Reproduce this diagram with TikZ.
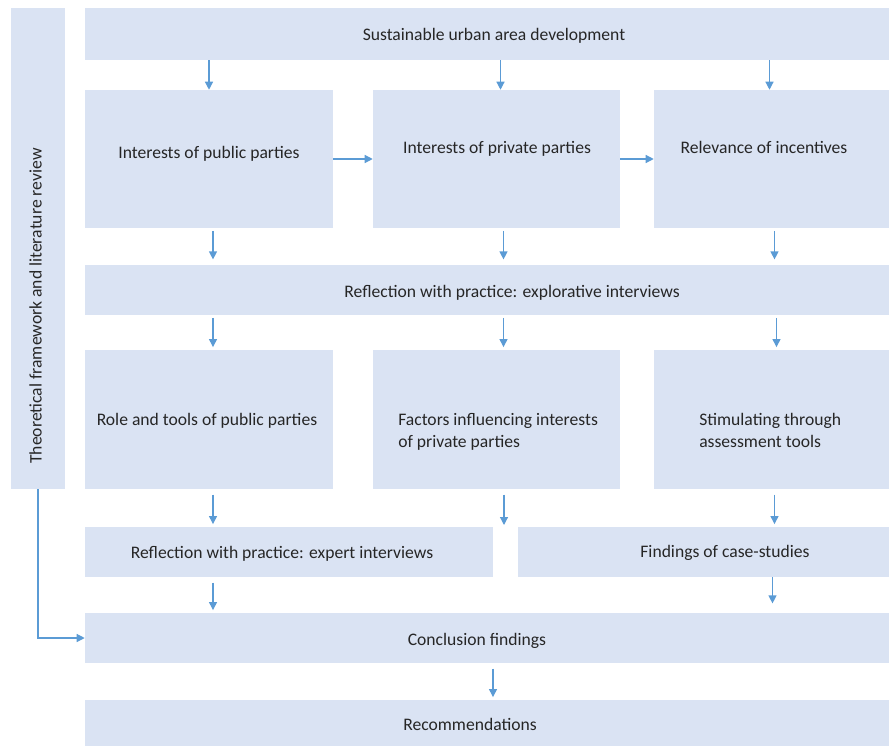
\documentclass[tikz,border=0pt]{standalone}
\usepackage{fontspec}
\setmainfont{Carlito}
\usetikzlibrary{arrows.meta, calc, fit}
\definecolor{panel}{HTML}{DAE3F3}
\definecolor{flowline}{HTML}{5B9BD5}
\definecolor{ink}{HTML}{262626}

\begin{document}
\begin{tikzpicture}[x={(0.75pt,0)}, y={(0,-0.75pt)},
	box/.style={fill=panel, inner sep=0pt},
	txt/.style={text=ink, inner sep=0pt, text height=0.9em, text depth=0.06em, font=\fontsize{13.2}{16.5}\selectfont},
	twoline/.style={text=ink, inner sep=0pt, anchor=west, align=left, font=\fontsize{13.2}{16.5}\selectfont},
	flow/.style={draw=flowline, line width=0.9pt, -{Triangle[length=6pt, width=6pt]}}]

	\useasboundingbox (0,0) rectangle (889,746);

	% left bar
	\node[box, fit={(11,8) (65,489)}] (bar) {};
	\node[txt, rotate=90] (bartxt) at (36,306) {Theoretical framework and literature review};

	% top
	\node[box, fit={(85,8) (889,60)}] (top) {};
	\node[txt] (toptxt) at (494,35) {Sustainable urban area development};

	% first row
	\node[box, fit={(85,90) (333,228)}] (pub) {};
	\node[box, fit={(373,90) (620,228)}] (priv) {};
	\node[box, fit={(654,90) (889,228)}] (rel) {};
	\node[txt] (pubtxt) at (209,153) {Interests of public parties};
	\node[txt] (privtxt) at (497,148) {Interests of private parties};
	\node[txt] (reltxt) at (764,148) {Relevance of incentives};

	\node[box, fit={(85,265) (889,315)}] (refl) {};
	\node[txt] (refltxt) at (512,292) {Reflection with practice: explorative interviews};

	% second row
	\node[box, fit={(85,350) (333,489)}] (role) {};
	\node[box, fit={(373,350) (620,489)}] (fac) {};
	\node[box, fit={(654,350) (889,489)}] (stim) {};
	\node[txt] (roletxt) at (207,420) {Role and tools of public parties};
	\node[twoline] (factxt) at (398,432) {Factors influencing interests\\of private parties};
	\node[twoline] (stimtxt) at (699,430) {Stimulating through\\assessment tools};

	\node[box, fit={(85,527) (493,577)}] (expert) {};
	\node[box, fit={(518,527) (889,577)}] (case) {};
	\node[txt] (experttxt) at (282,553) {Reflection with practice: expert interviews};
	\node[txt] (casetxt) at (725,552) {Findings of case-studies};

	\node[box, fit={(85,613) (889,663)}] (concl) {};
	\node[box, fit={(85,700) (889,746)}] (rec) {};
	\node[txt] (concltxt) at (477,640) {Conclusion findings};
	\node[txt] (rectxt) at (470,725) {Recommendations};

	\coordinate (gap) at (504,525);

	% arrows
	\draw[flow] (top.south -| pub.north) -- (pub.north);
	\draw[flow] ($(top.south -| priv.north)+(4,0)$) -- ($(priv.north)+(4,0)$);
	\draw[flow] ($(top.south -| rel.north)+(-2,0)$) -- ($(rel.north)+(-2,0)$);

	\draw[flow] (pub.east) -- (priv.west);
	\draw[flow] (priv.east) -- (rel.west);

	\draw[flow, shorten <=2pt, shorten >=4pt] ($(pub.south)+(4,0)$) -- ($(refl.north -| pub.south)+(4,0)$);
	\draw[flow, shorten <=2pt, shorten >=4pt] ($(priv.south)+(7,0)$) -- ($(refl.north -| priv.south)+(7,0)$);
	\draw[flow, shorten <=2pt, shorten >=4pt] ($(rel.south)+(3,0)$) -- ($(refl.north -| rel.south)+(3,0)$);

	\draw[flow, shorten <=2pt, shorten >=2pt] ($(refl.south -| role.north)+(4,0)$) -- ($(role.north)+(4,0)$);
	\draw[flow, shorten <=2pt, shorten >=2pt] ($(refl.south -| fac.north)+(7,0)$) -- ($(fac.north)+(7,0)$);
	\draw[flow, shorten <=2pt, shorten >=2pt] ($(refl.south -| stim.north)+(5,0)$) -- ($(stim.north)+(5,0)$);

	\draw[flow, shorten <=4pt, shorten >=2pt] ($(role.south)+(4,0)$) -- ($(expert.north -| role.south)+(4,0)$);
	\draw[flow, shorten <=4pt] (fac.south -| gap) -- (gap);
	\draw[flow, shorten <=4pt, shorten >=2pt] ($(stim.south)+(3,0)$) -- ($(case.north -| stim.south)+(3,0)$);

	\draw[flow, shorten <=4pt, shorten >=2pt] ($(expert.south -| role.south)+(4,0)$) -- ($(concl.north -| role.south)+(4,0)$);
	\draw[flow, shorten >=7pt] ($(case.south -| stim.south)+(1,0)$) -- ($(concl.north -| stim.south)+(1,0)$);

	\draw[flow, shorten <=4pt, shorten >=2pt] ($(concl.south)+(6,0)$) -- ($(rec.north)+(6,0)$);

	\draw[flow] (bar.south) |- (concl.west);

\end{tikzpicture}
\end{document}
